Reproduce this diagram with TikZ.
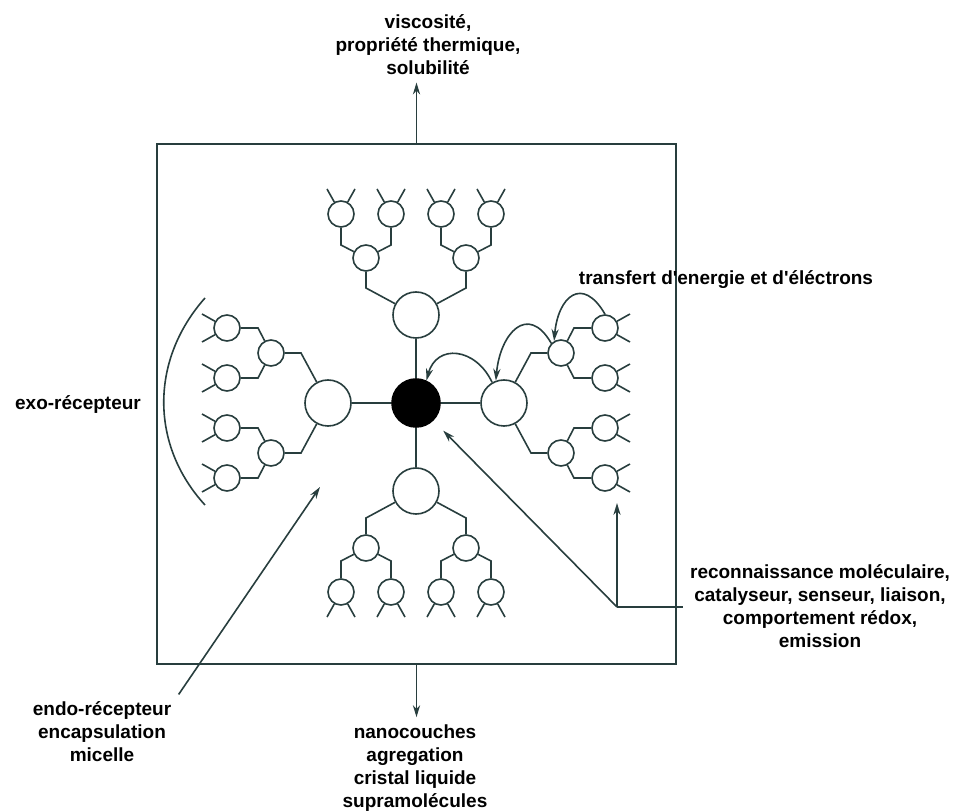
\documentclass[tikz,border=0pt]{standalone}
\usepackage{fontspec}
\setmainfont{Liberation Sans}
\usetikzlibrary{arrows.meta}

\definecolor{ink}{RGB}{40,62,62}

\tikzset{
    bead/.style={draw=ink, circle, fill=white, inner sep=0pt, minimum size=13pt},
    bigbead/.style={bead, minimum size=23pt},
    corebead/.style={draw=black, circle, fill=black, inner sep=0pt, minimum size=24pt},
    tag/.style={font=\bfseries\fontsize{9.5}{11.5}\selectfont, align=center, text=black},
    flow/.style={draw=ink, -{Stealth[length=6pt, width=3.6pt]}}
}

\begin{document}
\begin{tikzpicture}[x=0.5pt, y=-0.5pt, line width=0.8pt, ink]
    \def\rootDist{88}
    \def\forkDist{57}
    \def\forkKnee{27}
    \def\forkGap{50}
    \def\leafDist{44}
    \def\leafKnee{13}
    \def\leafGap{25}

    \useasboundingbox (0,0) rectangle (954,812);

    \node[draw=ink, minimum width=259.5pt, minimum height=260pt] (frame) at (416.5,404) {};
    \node[corebead] (core) at (416,403) {};

    % four dendrons round the core
    \foreach \a/\d in {0/n,90/w,180/s,270/e} {
        \begin{scope}[shift={(416,403)}, rotate=\a]
            \node[bigbead] (g1\d) at (0,-\rootDist) {};
            \draw (core) -- (g1\d);
            \foreach \s/\p in {a/-1,b/1} {
                \pgfmathsetmacro\px{\p*\forkGap}
                \node[bead] (g2\d\s) at (\px,-\rootDist-\forkDist) {};
                \draw (g1\d) -- (\px,-\rootDist-\forkKnee) -- (g2\d\s);
                \foreach \t/\q in {a/-1,b/1} {
                    \pgfmathsetmacro\qx{\px+\q*\leafGap}
                    \node[bead] (g3\d\s\t) at (\qx,-\rootDist-\forkDist-\leafDist) {};
                    \draw (g2\d\s) -- (\qx,-\rootDist-\forkDist-\leafKnee) -- (g3\d\s\t);
                    \draw (g3\d\s\t) -- (\qx-14,-\rootDist-\forkDist-\leafDist-25);
                    \draw (g3\d\s\t) -- (\qx+14,-\rootDist-\forkDist-\leafDist-25);
                }
            }
        \end{scope}
    }

    % transfer arrows
    \draw[flow] (g3eaa.north) to[out=120, in=85, looseness=2, shorten >=3pt] (g2ea.120);
    \draw[flow] (g2ea.135) to[out=120, in=85, looseness=1.8, shorten <=4pt, shorten >=3pt] (g1e.110);
    \draw[flow] (g1e.120) to[out=115, in=75, looseness=1.5, shorten <=4pt, shorten >=2pt] (core.65);

    % labels
    \node[tag] (props) at (428,45) {viscosité,\\propriété thermique,\\solubilité};
    \node[tag] (uses) at (415,768) {nanocouches\\agregation\\cristal liquide\\supramolécules};
    \node[tag] (endo) at (102,732) {endo-récepteur\\encapsulation\\micelle};
    \node[tag] (exo) at (78,405) {exo-récepteur};
    \node[tag] (transfer) at (726,280) {transfert d\textquotesingle energie et d\textquotesingle éléctrons};
    \node[tag] (recog) at (820,606) {reconnaissance moléculaire,\\catalyseur, senseur, liaison,\\comportement rédox,\\emission};

    \coordinate (hub) at (617,607);
    \coordinate (termE) at (617,503);
    \coordinate (cavity) at (320,487);

    \draw[flow] (frame.north) -- (frame.north |- props.south);
    \draw[flow] (frame.south) -- (frame.south |- uses.north);
    \draw[flow] (endo.north east) -- (cavity);
    \draw (hub) -- (hub -| recog.west);
    \draw[flow] (hub) -- (termE);
    \draw[flow, shorten >=7pt] (hub) -- (core);

    % outer shell
    \draw (205,298) .. controls (150,360) and (150,445) .. (205,505);
\end{tikzpicture}
\end{document}
